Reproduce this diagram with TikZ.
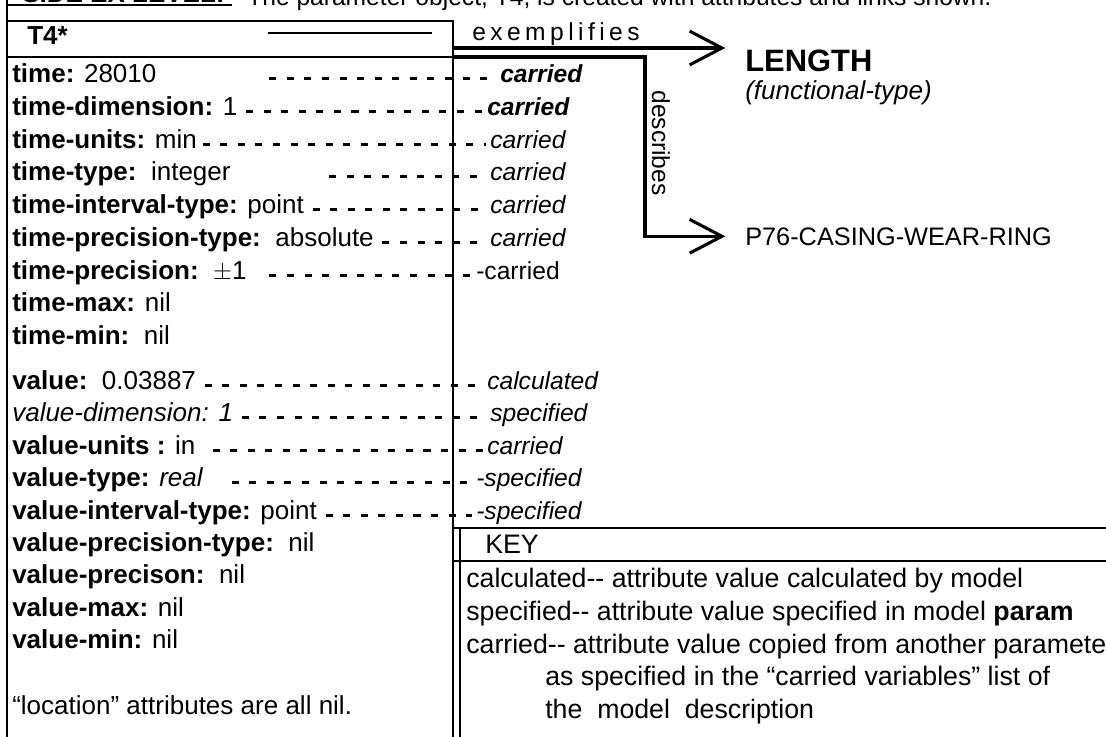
\documentclass[tikz,border=0pt]{standalone}
\usepackage{fontspec}
\setmainfont{Liberation Sans}
\usetikzlibrary{arrows.meta,positioning,calc}

\newcommand{\rowsize}{\fontsize{18.5}{22}\selectfont}
\newcommand{\notesize}{\fontsize{17.5}{21}\selectfont}
\newcommand{\keysize}{\fontsize{19}{23}\selectfont}

\tikzset{
  attr/.style={anchor=base west,inner sep=0pt,font=\rowsize},
  origin/.style={anchor=base west,inner sep=0pt,font=\notesize\itshape},
  leader/.style={line width=2.4pt,dash pattern=on 5pt off 7.5pt,shorten <=#1,shorten >=3pt},
  leader/.default={6pt},
  frame/.style={line width=2pt},
  link/.style={line width=2.2pt,-{Straight Barb[length=23pt,width=24pt,line width=2.2pt]},shorten >=14pt},
  keytext/.style={anchor=base west,inner sep=0pt,font=\keysize},
}

\begin{document}
\begin{tikzpicture}[x=0.025cm,y=-0.025cm]
  \useasboundingbox (0,0) rectangle (1106,737);
  % caption line, cut by the page top
  \node[attr,font=\rowsize\bfseries] (lvl) at (22,2) {SIDE EX LEVEL:};
  \node[attr,font=\notesize] (cap) at (247,5) {The parameter object, T4, is created with attributes and links shown.};
  \draw[frame] (7,5) -- (232,5);
  % parameter box
  \draw[frame] (7,0) -- (7,737);
  \draw[frame] (7,21) -- (453,21) -- (453,737);
  \draw[frame] (7,57) -- (453,57);
  \draw[line width=1.2pt] (268,33) -- (432,33);
  \node[attr,font=\rowsize\bfseries] (t4) at (27,44) {T4*};
  % time attributes
  \node[attr] (t1) at (12,82)  {\textbf{time:} 28010};
  \node[attr] (t2) at (12,115) {\textbf{time-dimension:} 1};
  \node[attr] (t3) at (12,148) {\textbf{time-units:} min};
  \node[attr] (t4r) at (12,180) {\textbf{time-type:}\ \ integer};
  \node[attr] (t5) at (12,213) {\textbf{time-interval-type:} point};
  \node[attr] (t6) at (12,246) {\textbf{time-precision-type:}\ \ absolute};
  \node[attr] (t7) at (12,279) {\textbf{time-precision:}\ \ $\pm$1};
  \node[attr] (t8) at (12,311) {\textbf{time-max:} nil};
  \node[attr] (t9) at (12,344) {\textbf{time-min:}\ \ nil};
  % value attributes
  \node[attr] (v1) at (12,389) {\textbf{value:}\ \ 0.03887};
  \node[attr] (v2) at (12,421) {\itshape value-dimension: 1};
  \node[attr] (v3) at (12,454) {\textbf{value-units :} in};
  \node[attr] (v4) at (12,486) {\textbf{value-type:} \textit{real}};
  \node[attr] (v5) at (12,519) {\textbf{value-interval-type:} point};
  \node[attr] (v6) at (12,551) {\textbf{value-precision-type:}\ \ nil};
  \node[attr] (v7) at (12,583) {\textbf{value-precison:}\ \ nil};
  \node[attr] (v8) at (12,616) {\textbf{value-max:} nil};
  \node[attr] (v9) at (12,648) {\textbf{value-min:} nil};
  \node[attr] (loc) at (12,714) {“location” attributes are all nil.};
  % where each value comes from
  \node[origin,font=\notesize\bfseries\itshape] (c1) at (500,82)  {carried};
  \node[origin,font=\notesize\bfseries\itshape] (c2) at (487,115) {carried};
  \node[origin] (c3) at (490,148) {carried};
  \node[origin] (c4) at (490,180) {carried};
  \node[origin] (c5) at (490,213) {carried};
  \node[origin] (c6) at (490,246) {carried};
  \node[attr,font=\notesize] (c7) at (476,279) {-carried};
  \node[origin] (d1) at (487,389) {calculated};
  \node[origin] (d2) at (490,421) {specified};
  \node[origin] (d3) at (487,454) {carried};
  \node[origin] (d4) at (476,486) {-specified};
  \node[origin] (d5) at (476,519) {-specified};
  \draw[leader=80] (t1.mid east) -- (c1.mid west);
  \draw[leader] (t2.mid east) -- (c2.mid west);
  \draw[leader=4pt] (t3.mid east) -- (c3.mid west);
  \draw[leader=70] (t4r.mid east) -- (c4.mid west);
  \draw[leader] (t5.mid east) -- (c5.mid west);
  \draw[leader] (t6.mid east) -- (c6.mid west);
  \draw[leader=16pt] (t7.mid east) -- (c7.mid west);
  \draw[leader] (v1.mid east) -- (d1.mid west);
  \draw[leader] (v2.mid east) -- (d2.mid west);
  \draw[leader=12pt] (v3.mid east) -- (d3.mid west);
  \draw[leader=20pt] (v4.mid east) -- (d4.mid west);
  \draw[leader] (v5.mid east) -- (d5.mid west);
  % links
  \node[anchor=base west,inner sep=0pt,font=\notesize\addfontfeatures{LetterSpace=18}] (exl) at (472,40) {exemplifies};
  \node[anchor=base west,inner sep=0pt,font=\fontsize{22}{26}\selectfont\bfseries] (len) at (745,71) {LENGTH};
  \node[origin,font=\rowsize\itshape] (fty) at (745,99) {(functional-type)};
  \node[attr,font=\fontsize{18}{22}\selectfont] (p76) at (745,245) {P76-CASING-WEAR-RING};
  \coordinate (exo) at (453,48);
  \coordinate (dso) at (453,57);
  \coordinate (dsb) at (645,57);
  \draw[link] (exo) -- (exo -| len.west);
  \draw[link] (dso) -- (dsb) |- (p76.west);
  \node[rotate=-90,font=\notesize] (dsl) at (661,143) {describes};
  % key
  \draw[frame] (453,528) -- (1106,528);
  \draw[frame] (460,528) -- (460,737);
  \draw[frame] (453,561) -- (1106,561);
  \node[keytext] (key) at (485,553) {KEY};
  \node[keytext] (k1) at (466,587) {calculated-{}- attribute value calculated by model};
  \node[keytext] (k2) at (466,620) {specified-{}- attribute value specified in model \textbf{param}};
  \node[keytext] (k3) at (466,653) {carried-{}- attribute value copied from another parameter};
  \node[keytext] (k4) at (545,685) {as specified in the “carried variables” list of};
  \node[keytext] (k5) at (545,718) {the\ \ model\ \ description};
\end{tikzpicture}
\end{document}
